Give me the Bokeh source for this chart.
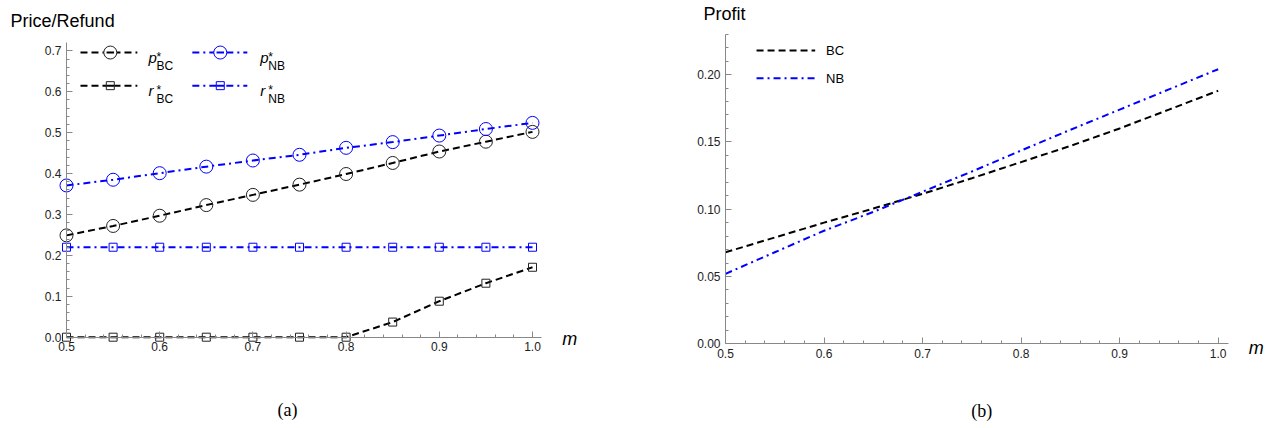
from bokeh.plotting import figure
from bokeh.layouts import row
from bokeh.models import Label, SingleIntervalTicker, PrintfTickFormatter, Range1d
from bokeh.embed import file_html
from bokeh.resources import INLINE

# ---------------- data ----------------
m = [0.5, 0.55, 0.6, 0.65, 0.7, 0.75, 0.8, 0.85, 0.9, 0.95, 1.0]
p_bc = [0.249, 0.272, 0.297, 0.323, 0.348, 0.373, 0.399, 0.426, 0.454, 0.478, 0.502]
p_nb = [0.371, 0.385, 0.401, 0.417, 0.432, 0.446, 0.463, 0.477, 0.493, 0.509, 0.524]
r_bc = [0.0, 0.0, 0.0, 0.0, 0.0, 0.0, 0.0, 0.037, 0.088, 0.132, 0.171]
r_nb = [0.22, 0.22, 0.22, 0.22, 0.22, 0.22, 0.22, 0.22, 0.22, 0.22, 0.22]
profit_bc = [0.068, 0.079, 0.090, 0.1005, 0.1114, 0.123, 0.135, 0.147, 0.160, 0.174, 0.188]
profit_nb = [0.052, 0.068, 0.084, 0.098, 0.113, 0.128, 0.1436, 0.159, 0.174, 0.189, 0.204]

BLUE = "#0000FF"
BLACK = "#000000"
DASH = "7 4"
DASHDOT = "7 4 2 4"
SANS = "Liberation Sans"
SERIF = "Liberation Serif"


def make_fig(w, xr, yr):
    f = figure(width=w, height=428, x_range=Range1d(*xr), y_range=Range1d(*yr),
               min_border=0, min_border_left=0, min_border_right=0,
               min_border_top=0, min_border_bottom=0,
               output_backend="svg", toolbar_location=None)
    f.outline_line_color = None
    f.grid.visible = False
    return f


def style_axes(fig, xb, yb, yint, yfmt):
    fig.xaxis.fixed_location = 0
    fig.yaxis.fixed_location = 0.5
    fig.xaxis.ticker = SingleIntervalTicker(interval=0.1, num_minor_ticks=5)
    fig.yaxis.ticker = SingleIntervalTicker(interval=yint, num_minor_ticks=5)
    fig.xaxis.formatter = PrintfTickFormatter(format="%.1f")
    fig.yaxis.formatter = PrintfTickFormatter(format=yfmt)
    fig.xaxis.bounds = xb
    fig.yaxis.bounds = yb
    for ax in (fig.xaxis, fig.yaxis):
        ax.axis_line_color = "#888888"
        ax.major_tick_line_color = "#888888"
        ax.minor_tick_line_color = "#888888"
        ax.major_tick_in = 6
        ax.major_tick_out = 0
        ax.minor_tick_in = 3
        ax.minor_tick_out = 0
        ax.major_label_text_font = SANS
        ax.major_label_text_font_size = "12px"
        ax.major_label_text_color = "#222222"
        ax.major_label_standoff = 5


def txt(fig, x, y, text, size, font=SANS, style="normal", align="left",
        baseline="middle", xo=0, yo=0):
    fig.add_layout(Label(x=x, y=y, text=text, text_font=font, text_font_size=size,
                         text_font_style=style, text_align=align,
                         text_baseline=baseline, x_offset=xo, y_offset=yo,
                         text_color="#000000"))


# ---------------- panel (a) ----------------
p1 = make_fig(620, (0.42918, 1.09442), (-0.22323, 0.82323))
style_axes(p1, (0.5, 1.01), (0, 0.72), 0.1, "%.1f")

p1.line(m, r_bc, line_color=BLACK, line_width=2, line_dash=DASH)
p1.scatter(m, r_bc, marker="square", size=8, fill_color=None, line_color="#222222", line_width=1)
p1.line(m, r_nb, line_color=BLUE, line_width=2, line_dash=DASHDOT)
p1.scatter(m, r_nb, marker="square", size=8, fill_color=None, line_color=BLUE, line_width=1)
p1.line(m, p_bc, line_color=BLACK, line_width=2, line_dash=DASH)
p1.scatter(m, p_bc, marker="circle", size=13, fill_color=None, line_color="#222222", line_width=1)
p1.line(m, p_nb, line_color=BLUE, line_width=2, line_dash=DASHDOT)
p1.scatter(m, p_nb, marker="circle", size=13, fill_color=None, line_color=BLUE, line_width=1)

# legend (a)
leg_rows = [(0.696, "p", "BC", BLACK, "#222222", DASH, "circle", 13, 0.515, 0.576, 0.547, 0.588),
            (0.696, "p", "NB", BLUE, BLUE, DASHDOT, "circle", 13, 0.635, 0.694, 0.665, 0.708),
            (0.615, "r", "BC", BLACK, "#222222", DASH, "square", 8, 0.515, 0.576, 0.547, 0.588),
            (0.615, "r", "NB", BLUE, BLUE, DASHDOT, "square", 8, 0.635, 0.694, 0.665, 0.708)]
for (yy, base, sub, lc, mc, dash, mk, sz, x0, x1, xm, xt) in leg_rows:
    p1.line([x0, x1], [yy, yy], line_color=lc, line_width=2, line_dash=dash)
    p1.scatter([xm], [yy], marker=mk, size=sz, fill_color="white", line_color=mc, line_width=1)
    p1.line([xm - 0.004, xm + 0.004], [yy, yy], line_color=lc, line_width=2)
    txt(p1, xt, yy, base, "15px", style="italic", baseline="alphabetic", yo=-5)
    txt(p1, xt, yy, "*", "12px", baseline="alphabetic", xo=8, yo=-4)
    txt(p1, xt, yy, sub, "12px", baseline="alphabetic", xo=8, yo=-13)

txt(p1, 0.44, 0.774, "Price/Refund", "18px")
txt(p1, 1.032, -0.004, "m", "18px", style="italic")
txt(p1, 0.737, -0.179, "(a)", "18px", font=SERIF, align="center")

# ---------------- panel (b) ----------------
p2 = make_fig(653, (0.39344, 1.05612), (-0.06293, 0.25505))
style_axes(p2, (0.5, 1.01), (0, 0.23), 0.05, "%.2f")

p2.line(m, profit_bc, line_color=BLACK, line_width=2, line_dash=DASH)
p2.line(m, profit_nb, line_color=BLUE, line_width=2, line_dash=DASHDOT)

p2.line([0.5315, 0.591], [0.2179, 0.2179], line_color=BLACK, line_width=2, line_dash=DASH)
p2.line([0.5315, 0.591], [0.1973, 0.1973], line_color=BLUE, line_width=2, line_dash=DASHDOT)
txt(p2, 0.602, 0.2179, "BC", "13px")
txt(p2, 0.602, 0.1973, "NB", "13px")

txt(p2, 0.4777, 0.2447, "Profit", "18px")
txt(p2, 1.031, -0.003, "m", "18px", style="italic")
txt(p2, 0.760, -0.0496, "(b)", "18px", font=SERIF, align="center")

layout = row(p1, p2)
open("out.html", "w").write(file_html(layout, INLINE))
